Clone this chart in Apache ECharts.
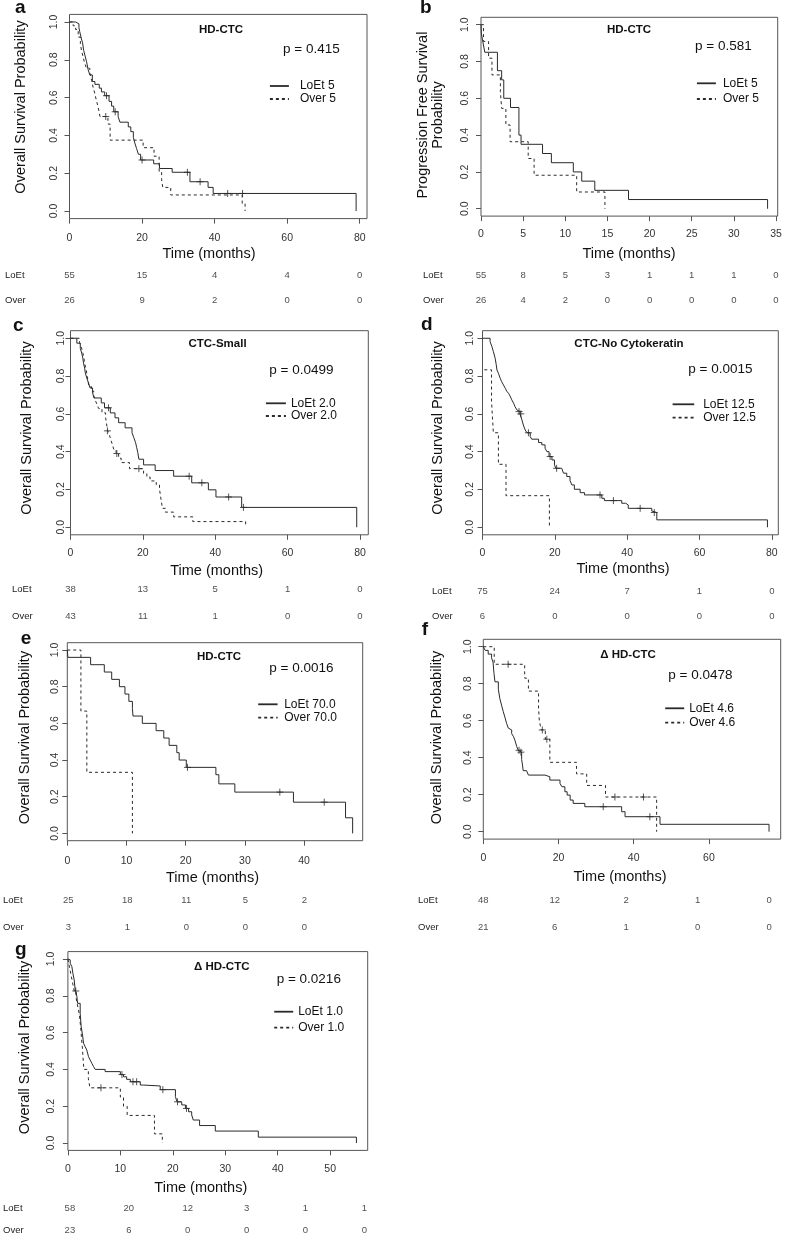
<!DOCTYPE html>
<html><head><meta charset="utf-8">
<script src="https://cdn.jsdelivr.net/npm/echarts@6/dist/echarts.min.js"></script>
<style>html,body{margin:0;padding:0;background:#fff}#c{width:788px;height:1241px}</style>
</head><body><div id="c"></div>
<script>
// ---------------- DATA ----------------
const yTicks = [0, 0.2, 0.4, 0.6, 0.8, 1.0];

// Panel a : HD-CTC overall survival
const aXTicks = [0, 20, 40, 60, 80];
const aLoEt = [[0,1],[1.7,0.99],[2.6,0.97],[2.8,0.95],[3.3,0.91],[3.6,0.89],[3.9,0.85],[4.3,0.82],[4.7,0.79],[5.1,0.75],[5.6,0.72],[6.3,0.685],[7.0,0.67],[8.2,0.65],[8.8,0.63],[9.7,0.61],[10.9,0.58],[11.6,0.555],[12.2,0.525],[13.4,0.50],[13.9,0.47],[16.2,0.445],[16.9,0.42],[17.6,0.39],[18.0,0.36],[18.5,0.33],[19.0,0.30],[19.6,0.27],[23.2,0.25],[24.8,0.225],[28.3,0.205],[33.2,0.155],[38.2,0.125],[39.6,0.093],[79.0,0]];
const aLoEtCens = [[10.2,0.61],[12.6,0.525],[20.0,0.27],[32.5,0.205],[36.0,0.155],[43.6,0.093],[47.7,0.093]];
const aOver = [[0,1],[1.0,0.98],[1.7,0.96],[2.4,0.92],[3.0,0.885],[3.3,0.85],[3.75,0.815],[4.2,0.78],[4.7,0.755],[5.6,0.73],[6.1,0.69],[6.5,0.655],[7.0,0.62],[7.4,0.585],[7.9,0.55],[8.4,0.50],[10.6,0.46],[11.2,0.375],[20.3,0.335],[23.3,0.29],[24.7,0.21],[25.4,0.165],[25.7,0.125],[27.9,0.085],[47.6,0.04],[48.4,0]];
const aOverCens = [[10.0,0.50]];
const aRiskTimes = [0, 20, 40, 60, 80];
const aRiskLoEt = [55, 15, 4, 4, 0];
const aRiskOver = [26, 9, 2, 0, 0];

// Panel b : HD-CTC progression free survival
const bXTicks = [0, 5, 10, 15, 20, 25, 30, 35];
const bLoEt = [[0,1],[0.05,0.95],[0.25,0.90],[0.45,0.85],[1.95,0.75],[2.45,0.70],[2.7,0.60],[3.5,0.55],[4.5,0.40],[4.75,0.35],[7.3,0.30],[8.35,0.25],[10.95,0.20],[11.95,0.15],[13.5,0.10],[17.5,0.05],[34.0,0]];
const bOver = [[0,1],[0.3,0.909],[0.9,0.818],[1.3,0.727],[2.3,0.636],[2.45,0.545],[2.95,0.455],[3.45,0.364],[5.6,0.273],[6.3,0.182],[11.35,0.091],[14.7,0]];
const bRiskTimes = [0, 5, 10, 15, 20, 25, 30, 35];
const bRiskLoEt = [55, 8, 5, 3, 1, 1, 1, 0];
const bRiskOver = [26, 4, 2, 0, 0, 0, 0, 0];

// Panel c : CTC-Small
const cXTicks = [0, 20, 40, 60, 80];
const cLoEt = [[0,1],[1.75,0.974],[2.7,0.947],[3.1,0.921],[3.4,0.895],[3.6,0.868],[3.9,0.842],[4.1,0.816],[4.5,0.789],[5.0,0.763],[5.4,0.737],[6.1,0.711],[6.5,0.684],[8.5,0.658],[9.4,0.632],[11.0,0.605],[12.3,0.579],[13.3,0.553],[15.1,0.526],[17.0,0.50],[17.5,0.474],[18.0,0.447],[18.3,0.421],[18.6,0.395],[18.9,0.36],[20.2,0.33],[23.4,0.30],[28.5,0.27],[33.5,0.235],[38.1,0.198],[40.2,0.16],[47.3,0.105],[79.1,0]];
const cLoEtCens = [[10.5,0.632],[32.8,0.27],[36.3,0.235],[43.7,0.16],[47.8,0.105]];
const cOver = [[0,1],[2.5,0.977],[3.0,0.953],[3.3,0.93],[3.6,0.907],[3.8,0.884],[4.0,0.86],[4.3,0.837],[4.5,0.814],[4.7,0.79],[4.9,0.767],[5.1,0.744],[5.8,0.72],[6.4,0.698],[6.8,0.674],[7.3,0.651],[7.8,0.628],[8.7,0.605],[9.7,0.58],[9.9,0.555],[10.1,0.53],[10.3,0.51],[10.8,0.485],[11.2,0.46],[11.6,0.435],[12.0,0.41],[12.6,0.39],[13.3,0.365],[14.0,0.342],[16.3,0.31],[20.2,0.285],[21.1,0.265],[22.0,0.245],[23.7,0.225],[24.6,0.20],[25.0,0.15],[25.4,0.10],[26.2,0.08],[28.5,0.055],[33.8,0.03],[48.4,0]];
const cOverCens = [[10.2,0.51],[12.8,0.39],[18.9,0.31]];
const cRiskTimes = [0, 20, 40, 60, 80];
const cRiskLoEt = [38, 13, 5, 1, 0];
const cRiskOver = [43, 11, 1, 0, 0];

// Panel d : CTC-No Cytokeratin
const dXTicks = [0, 20, 40, 60, 80];
const dLoEt = [[0,1],[2.1,0.982],[2.6,0.956],[3.0,0.93],[3.5,0.894],[3.8,0.86],[4.0,0.832],[4.4,0.815],[4.9,0.788],[5.3,0.77],[5.8,0.753],[6.3,0.735],[6.7,0.72],[7.2,0.709],[7.6,0.695],[8.1,0.674],[8.6,0.656],[9.0,0.638],[9.5,0.621],[9.9,0.612],[10.4,0.60],[10.9,0.568],[11.3,0.541],[11.8,0.515],[12.3,0.50],[13.2,0.48],[13.6,0.466],[15.5,0.448],[16.4,0.436],[17.3,0.418],[17.8,0.40],[18.4,0.374],[19.2,0.356],[19.9,0.33],[20.3,0.312],[21.9,0.303],[22.4,0.286],[23.3,0.268],[24.2,0.247],[24.7,0.224],[25.4,0.201],[27.0,0.183],[28.2,0.171],[33.0,0.153],[33.7,0.141],[38.5,0.127],[39.6,0.118],[40.3,0.10],[46.8,0.086],[47.2,0.078],[48.2,0.039],[78.8,0]];
const dLoEtCens = [[10.1,0.612],[10.6,0.60],[12.7,0.50],[18.7,0.374],[20.5,0.312],[32.5,0.171],[36.2,0.141],[43.6,0.10],[47.5,0.078]];
const dOver = [[0.5,0.833],[2.5,0.667],[3.0,0.5],[4.4,0.333],[6.5,0.167],[18.5,0]];
const dRiskTimes = [0, 20, 40, 60, 80];
const dRiskLoEt = [75, 24, 7, 1, 0];
const dRiskOver = [6, 0, 0, 0, 0];

// Panel e : HD-CTC (70.0 cut-off)
const eXTicks = [0, 10, 20, 30, 40, 50];
const eLoEt = [[0,1],[0.1,0.96],[3.94,0.92],[6.25,0.88],[7.5,0.84],[8.8,0.80],[9.74,0.76],[10.4,0.72],[11.0,0.68],[11.1,0.64],[12.67,0.60],[15.0,0.56],[16.3,0.52],[17.2,0.48],[18.5,0.44],[18.9,0.40],[20.1,0.36],[25.1,0.32],[25.6,0.27],[28.3,0.225],[38.2,0.17],[47.0,0.085],[48.2,0]];
const eLoEtCens = [[20.3,0.36],[35.9,0.225],[43.4,0.17]];
const eOver = [[0,1],[2.3,0.667],[3.3,0.333],[11.0,0]];
const eRiskTimes = [0, 10, 20, 30, 40, 50];
const eRiskLoEt = [25, 18, 11, 5, 2, 0];
const eRiskOver = [3, 1, 0, 0, 0, 0];

// Panel f : Delta HD-CTC (4.6)
const fXTicks = [0, 20, 40, 60];
const fLoEt = [[0,1],[0.5,0.98],[1.3,0.96],[2.2,0.94],[2.6,0.915],[2.85,0.855],[3.1,0.81],[4.0,0.77],[4.4,0.72],[4.9,0.68],[5.3,0.65],[5.8,0.615],[6.2,0.585],[6.65,0.56],[7.1,0.55],[7.55,0.53],[8.0,0.515],[8.4,0.495],[8.9,0.46],[9.3,0.44],[9.8,0.43],[10.2,0.39],[10.5,0.35],[10.6,0.33],[11.5,0.325],[12.0,0.306],[16.4,0.297],[17.7,0.279],[20.4,0.261],[20.9,0.243],[21.7,0.216],[22.3,0.198],[23.1,0.171],[23.9,0.153],[27.0,0.135],[36.8,0.108],[37.7,0.081],[47.0,0.04],[76.0,0]];
const fLoEtCens = [[9.5,0.44],[10.0,0.43],[31.9,0.135],[44.3,0.081]];
const fOver = [[0,1],[2.9,0.905],[11.0,0.83],[12.0,0.76],[14.7,0.667],[14.9,0.60],[15.4,0.55],[16.5,0.50],[17.7,0.375],[24.8,0.3125],[27.5,0.25],[32.5,0.1875],[46.1,0]];
const fOverCens = [[6.6,0.905],[15.7,0.55],[16.9,0.50],[35.0,0.1875],[42.6,0.1875]];
const fRiskTimes = [0, 19, 38, 57, 76];
const fRiskLoEt = [48, 12, 2, 1, 0];
const fRiskOver = [21, 6, 1, 0, 0];

// Panel g : Delta HD-CTC (1.0)
const gXTicks = [0, 10, 20, 30, 40, 50];
const gLoEt = [[0,1],[0.1,0.995],[0.44,0.977],[0.76,0.958],[0.95,0.922],[1.2,0.886],[1.39,0.832],[1.72,0.795],[1.84,0.759],[2.34,0.705],[2.53,0.632],[2.79,0.587],[2.98,0.542],[3.3,0.523],[3.6,0.505],[3.93,0.469],[4.25,0.451],[4.57,0.433],[4.9,0.415],[5.2,0.40],[7.1,0.388],[10.0,0.372],[10.6,0.36],[11.2,0.346],[11.9,0.333],[13.8,0.315],[14.4,0.31],[17.6,0.29],[20.5,0.252],[20.8,0.224],[21.7,0.207],[22.4,0.188],[23.0,0.17],[23.6,0.152],[23.9,0.125],[25.1,0.095],[28.1,0.065],[36.3,0.032],[55.0,0]];
const gLoEtCens = [[10.3,0.372],[12.4,0.333],[13.1,0.333],[18.1,0.29],[20.9,0.224],[22.6,0.188]];
const gOver = [[0,1],[0.3,0.957],[0.6,0.913],[0.9,0.87],[1.2,0.826],[1.6,0.783],[1.9,0.739],[2.2,0.696],[2.35,0.652],[2.5,0.609],[2.6,0.565],[2.75,0.522],[2.85,0.478],[2.95,0.435],[3.05,0.40],[3.9,0.35],[4.2,0.30],[10.0,0.25],[10.6,0.20],[11.3,0.15],[16.5,0.05],[18.0,0]];
const gOverCens = [[1.5,0.826],[6.3,0.30]];
const gRiskTimes = [0, 11.3, 22.6, 33.9, 45.2, 56.5];
const gRiskLoEt = [58, 20, 12, 3, 1, 1];
const gRiskOver = [23, 6, 0, 0, 0, 0];

// ---------------- LAYOUT ----------------
const FONT = '"Liberation Sans", Arial, Helvetica, sans-serif';
const LINE = '#2a2a2a';
const panels = [
  {L:'a', g:[69.5,14.4,297.5,204.2], xMax:82.0, xt:aXTicks, ym:9.5, xm:14, letter:[15,7.3],
   title:['HD-CTC',221,30], p:['p = 0.415',283,49.5], names:['LoEt 5','Over 5'], leg:[269,86,19,13,6],
   xT:[209,254], yT:['Overall Survival Probability',21,107], rows:[275,300.7], lab:5,
   lo:aLoEt, ov:aOver, loC:aLoEtCens, ovC:aOverCens, rt:aRiskTimes, rl:aRiskLoEt, ro:aRiskOver},
  {L:'b', g:[481,17.3,296.7,198.8], xMax:35.2, xt:bXTicks, ym:10.7, xm:12.7, letter:[420,7.3],
   title:['HD-CTC',629,30], p:['p = 0.581',695,46.7], names:['LoEt 5','Over 5'], leg:[696,83.3,19,15.7,2],
   xT:[629,254], yT:['Progression Free Survival\nProbability',430.3,115], rows:[275.3,300.7], lab:423,
   lo:bLoEt, ov:bOver, loC:[], ovC:[], rt:bRiskTimes, rl:bRiskLoEt, ro:bRiskOver},
  {L:'c', g:[70.5,330.7,297.8,204.1], xMax:82.3, xt:cXTicks, ym:4.2, xm:13, letter:[13,325.3],
   title:['CTC-Small',217.5,344.3], p:['p = 0.0499',269.3,370], names:['LoEt 2.0','Over 2.0'], leg:[265,403.3,20,12.7,0],
   xT:[216.7,570.7], yT:['Overall Survival Probability',26.7,428], rows:[589.3,616.7], lab:12,
   lo:cLoEt, ov:cOver, loC:cLoEtCens, ovC:cOverCens, rt:cRiskTimes, rl:cRiskLoEt, ro:cRiskOver},
  {L:'d', g:[482.5,330.7,295.8,204.1], xMax:81.8, xt:dXTicks, ym:6.5, xm:13, letter:[421,324.4],
   title:['CTC-No Cytokeratin',629,344.3], p:['p = 0.0015',688.3,369.3], names:['LoEt 12.5','Over 12.5'], leg:[671.7,404.3,21.6,13.4,4],
   xT:[623,569], yT:['Overall Survival Probability',438.3,428], rows:[591.7,616.7], lab:432,
   lo:dLoEt, ov:dOver, loC:dLoEtCens, ovC:[], rt:dRiskTimes, rl:dRiskLoEt, ro:dRiskOver},
  {L:'e', g:[67.3,642.7,295.4,198], xMax:49.9, xt:eXTicks, ym:7, xm:14.9, letter:[20.7,638.8],
   title:['HD-CTC',219,656.7], p:['p = 0.0016',269.3,668.3], names:['LoEt 70.0','Over 70.0'], leg:[257.3,704.3,19.4,13.4,1.6],
   xT:[212.5,878.3], yT:['Overall Survival Probability',25,737.5], rows:[900.7,927.7], lab:2,
   lo:eLoEt, ov:eOver, loC:eLoEtCens, ovC:[], rt:eRiskTimes, rl:eRiskLoEt, ro:eRiskOver},
  {L:'f', g:[483.3,639.3,297.4,199.8], xMax:79.1, xt:fXTicks, ym:9.6, xm:13.1, letter:[421.7,629.4],
   title:['\u0394 HD-CTC',628,655], p:['p = 0.0478',668.3,675], names:['LoEt 4.6','Over 4.6'], leg:[664.3,708.3,19,14.4,0],
   xT:[620,876.7], yT:['Overall Survival Probability',436.7,737.5], rows:[900.7,927.7], lab:418,
   lo:fLoEt, ov:fOver, loC:fLoEtCens, ovC:fOverCens, rt:fRiskTimes, rl:fRiskLoEt, ro:fRiskOver},
  {L:'g', g:[67.9,951.6,299.8,198.8], xMax:57.15, xt:gXTicks, ym:10.9, xm:13.4, letter:[15,949.5],
   title:['\u0394 HD-CTC',221.7,966.7], p:['p = 0.0216',276.7,979], names:['LoEt 1.0','Over 1.0'], leg:[273.3,1011.7,19,16,0],
   xT:[200.8,1188.3], yT:['Overall Survival Probability',25,1047.5], rows:[1211,1236.7], lab:1,
   lo:gLoEt, ov:gOver, loC:gLoEtCens, ovC:gOverCens, rt:gRiskTimes, rl:gRiskLoEt, ro:gRiskOver}
];

const grids = [], xAxes = [], yAxes = [], series = [], legends = [], graphics = [];
const txt = (text, x, y, o) => Object.assign({type:'text', x:x, y:y, silent:true,
  style:Object.assign({text:text, fill:'#111', fontFamily:FONT, fontSize:12, textAlign:'left', textVerticalAlign:'middle'}, o || {})});
const HIDDEN = 'rgba(0,0,0,0)';

panels.forEach(P => {
  const gi = grids.length;
  grids.push({left:P.g[0], top:P.g[1], width:P.g[2], height:P.g[3], show:true, borderColor:'#555', borderWidth:1});
  xAxes.push({type:'value', gridIndex:gi, min:0, max:P.xMax, position:'bottom', splitLine:{show:false},
    axisLine:{show:false, onZero:false},
    axisTick:{show:true, inside:false, customValues:P.xt, length:5, lineStyle:{color:'#555'}},
    axisLabel:{customValues:P.xt, margin:P.xm, fontSize:10.5, color:'#333', fontFamily:FONT, formatter:v=>String(v)}});
  yAxes.push({type:'value', gridIndex:gi, min:-0.04, max:1.04, position:'left', splitLine:{show:false},
    axisLine:{show:false, onZero:false},
    axisTick:{show:true, inside:false, customValues:yTicks, length:5, lineStyle:{color:'#555'}},
    axisLabel:{customValues:yTicks, rotate:90, margin:P.ym, fontSize:10.5, color:'#333', fontFamily:FONT, formatter:v=>v.toFixed(1)}});
  series.push({type:'line', name:P.names[0], xAxisIndex:gi, yAxisIndex:gi, data:P.lo, step:'end', symbol:'none',
    lineStyle:{color:LINE, width:1}, itemStyle:{color:HIDDEN}, silent:true});
  series.push({type:'line', name:P.names[1], xAxisIndex:gi, yAxisIndex:gi, data:P.ov, step:'end', symbol:'none',
    lineStyle:{color:LINE, width:1, type:[3,3]}, itemStyle:{color:HIDDEN}, silent:true});
  [P.loC, P.ovC].forEach((c, k) => {
    if (c.length) series.push({type:'scatter', name:P.L + '-cens-' + k, xAxisIndex:gi, yAxisIndex:gi, data:c,
      symbol:'path://M5,0L5,10M0,5L10,5', symbolSize:7, silent:true,
      itemStyle:{color:'none', borderColor:LINE, borderWidth:1}});
  });
  // legend
  legends.push({left:P.leg[0], top:P.leg[1] - 6, orient:'vertical', padding:0, itemWidth:P.leg[2], itemHeight:10,
    itemGap:P.leg[3] - 12, selectedMode:false, data:P.names,
    itemStyle:{color:HIDDEN, opacity:0}, lineStyle:{width:1.8},
    textStyle:{fontSize:12, color:'#111', fontFamily:FONT, padding:[0,0,0,P.leg[4]]}});
  // risk table grid
  const ri = grids.length;
  const dh = P.rows[1] - P.rows[0];
  grids.push({left:P.g[0], top:P.rows[0] - dh/2, width:P.g[2], height:2*dh, show:false});
  xAxes.push({type:'value', gridIndex:ri, min:0, max:P.xMax, show:false});
  yAxes.push({type:'category', gridIndex:ri, data:['LoEt','Over'], inverse:true,
    axisLine:{show:false}, axisTick:{show:false}, splitLine:{show:false},
    axisLabel:{align:'left', margin:P.g[0] - P.lab, fontSize:9.5, color:'#222', fontFamily:FONT}});
  [['LoEt', P.rl], ['Over', P.ro]].forEach(([row, vals]) => {
    series.push({type:'scatter', name:P.L + '-risk-' + row, xAxisIndex:ri, yAxisIndex:ri, silent:true,
      data:P.rt.map((t, k) => [t, row, vals[k]]), symbolSize:1, itemStyle:{color:HIDDEN},
      label:{show:true, position:'inside', formatter:p => String(p.value[2]), fontSize:9.5, color:'#222', fontFamily:FONT}});
  });
  // texts
  graphics.push(txt(P.L, P.letter[0], P.letter[1], {fontSize:19, fontWeight:'bold'}));
  graphics.push(txt(P.title[0], P.title[1], P.title[2], {fontSize:11.5, fontWeight:'bold', textAlign:'center'}));
  graphics.push(txt(P.p[0], P.p[1], P.p[2], {fontSize:13.5}));
  graphics.push(txt('Time (months)', P.xT[0], P.xT[1], {fontSize:14.5, textAlign:'center'}));
  graphics.push(Object.assign(txt(P.yT[0], P.yT[1], P.yT[2], {fontSize:14.5, textAlign:'center', lineHeight:15.5}), {rotation:Math.PI/2}));
});

const chart = echarts.init(document.getElementById('c'), null, {renderer:'canvas'});
chart.setOption({
  animation:false,
  backgroundColor:'#fff',
  textStyle:{fontFamily:FONT},
  grid:grids, xAxis:xAxes, yAxis:yAxes, series:series, legend:legends,
  graphic:{elements:graphics}
});
</script></body></html>
